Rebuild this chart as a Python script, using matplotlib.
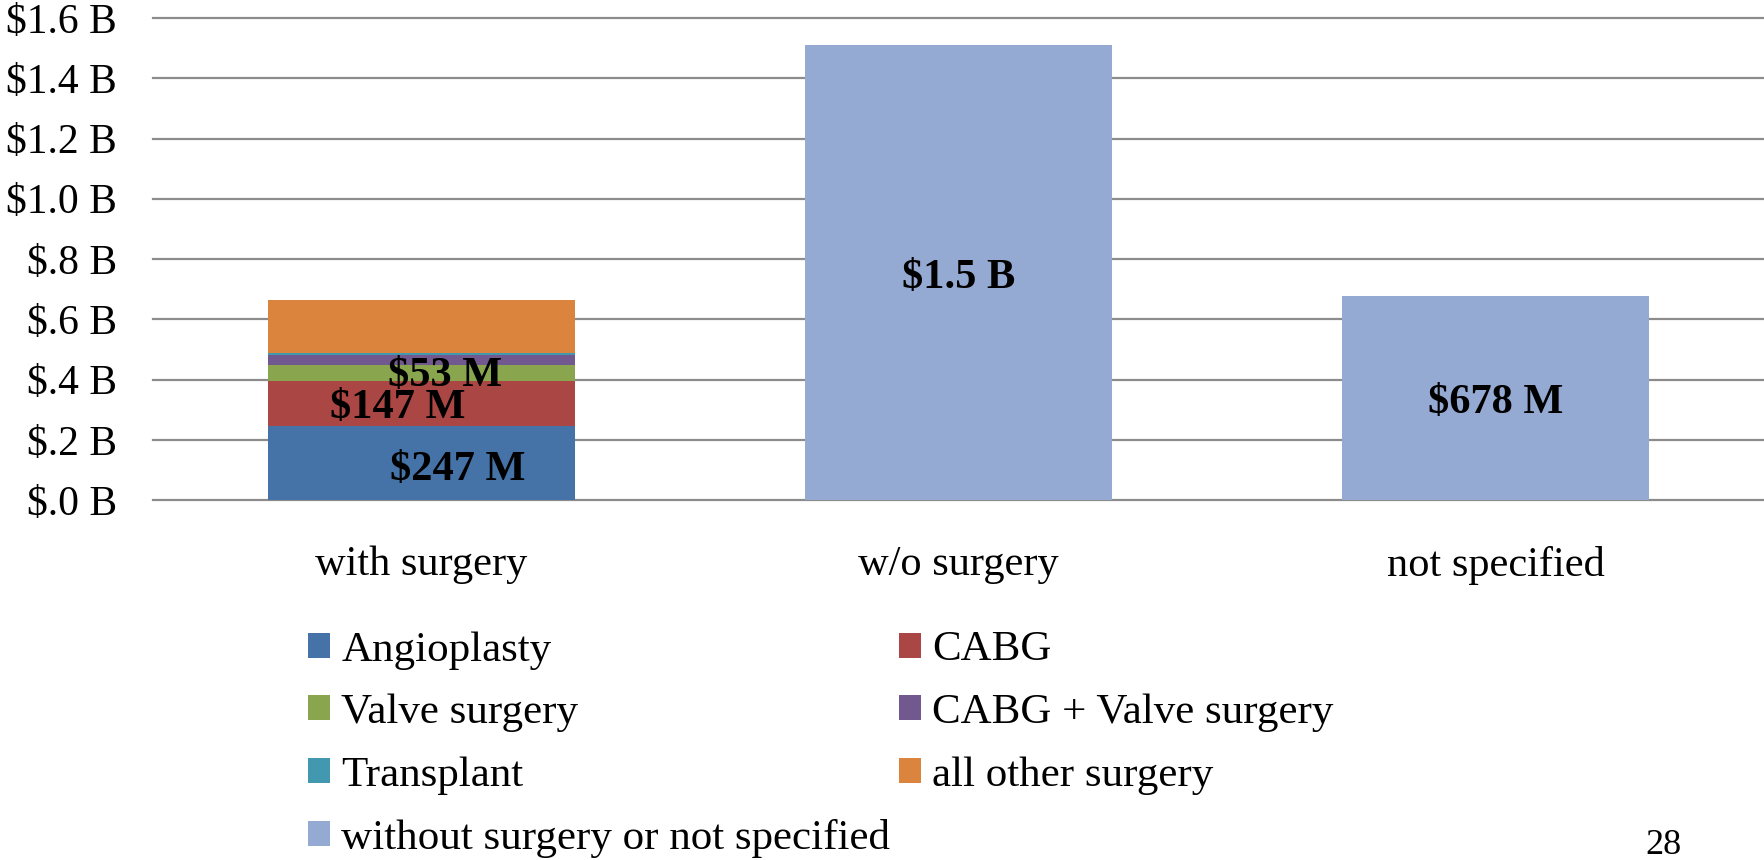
import matplotlib.pyplot as plt
import numpy as np

plt.rcParams['font.family'] = ['Liberation Serif', 'DejaVu Serif']

# categories and values (billions of dollars)
categories = ['with surgery', 'w/o surgery', 'not specified']
surgery_types = ['Angioplasty', 'CABG', 'Valve surgery', 'CABG + Valve surgery',
                 'Transplant', 'all other surgery']
surgery_values = [0.247, 0.147, 0.053, 0.035, 0.006, 0.175]
surgery_colors = ['#4572A7', '#AA4643', '#89A54E', '#71588F', '#4198AF', '#DB843D']
nosurg_label = 'without surgery or not specified'
nosurg_values = [1.51, 0.678]
nosurg_color = '#95AAD2'
nosurg_text = ['$1.5 B', '$678 M']
yticks = [0.0, 0.2, 0.4, 0.6, 0.8, 1.0, 1.2, 1.4, 1.6]
ytick_labels = ['$.0 B', '$.2 B', '$.4 B', '$.6 B', '$.8 B', '$1.0 B', '$1.2 B', '$1.4 B', '$1.6 B']

# labels inside the stacked bar (text, x offset, y)
stack_text = [('$247 M', 0.068, 0.100), ('$147 M', -0.044, 0.305), ('$53 M', 0.044, 0.412)]

fig = plt.figure(figsize=(17.64, 8.6), dpi=100)
ax = fig.add_axes([153 / 1764, 1 - 500 / 860, 1 - 153 / 1764, (500 - 18) / 860])

x = np.arange(len(categories))
width = 0.57
bars = {}
bottom = 0
for name, val, col in zip(surgery_types, surgery_values, surgery_colors):
    bars[name] = ax.bar(x[0], val, width, bottom=bottom, color=col, label=name, zorder=2)
    bottom += val
bars[nosurg_label] = ax.bar(x[1:], nosurg_values, width, color=nosurg_color,
                            label=nosurg_label, zorder=2)

for txt, dx, yy in stack_text:
    ax.text(x[0] + dx, yy, txt, ha='center', va='center', fontsize=30.5,
            fontweight='bold', zorder=3)
for xi, v, txt in zip(x[1:], nosurg_values, nosurg_text):
    ax.text(xi, v / 2 - 0.018, txt, ha='center', va='center', fontsize=30.5,
            fontweight='bold', zorder=3)

ax.set_xlim(-0.5, 2.5)
ax.set_ylim(0, 1.6)
ax.set_yticks(yticks)
ax.set_yticklabels(ytick_labels)
ax.set_xticks(x)
ax.set_xticklabels(categories)
ax.tick_params(axis='y', length=0, pad=26, labelsize=30)
ax.tick_params(axis='x', length=0, pad=33, labelsize=30.5)
for s in ax.spines.values():
    s.set_visible(False)
ax.yaxis.grid(True, color='#8c8c8c', linewidth=1.6, zorder=0)
for gl in ax.get_ygridlines():
    gl.set_clip_on(False)
ax.set_axisbelow(True)

order = ['Angioplasty', 'Valve surgery', 'Transplant', nosurg_label,
         'CABG', 'CABG + Valve surgery', 'all other surgery']
fig.legend([bars[k] for k in order], order, loc='upper left',
           bbox_to_anchor=(308 / 1764, 1 - 631 / 860), ncol=2, frameon=False,
           fontsize=31, borderpad=0, borderaxespad=0, handlelength=0.52,
           handleheight=0.52, handletextpad=0.25, columnspacing=0.2,
           labelspacing=0.56)

fig.text(1663 / 1764, 1 - 846 / 860, '28', ha='center', va='center', fontsize=26)

plt.savefig('out.png', dpi=100)
